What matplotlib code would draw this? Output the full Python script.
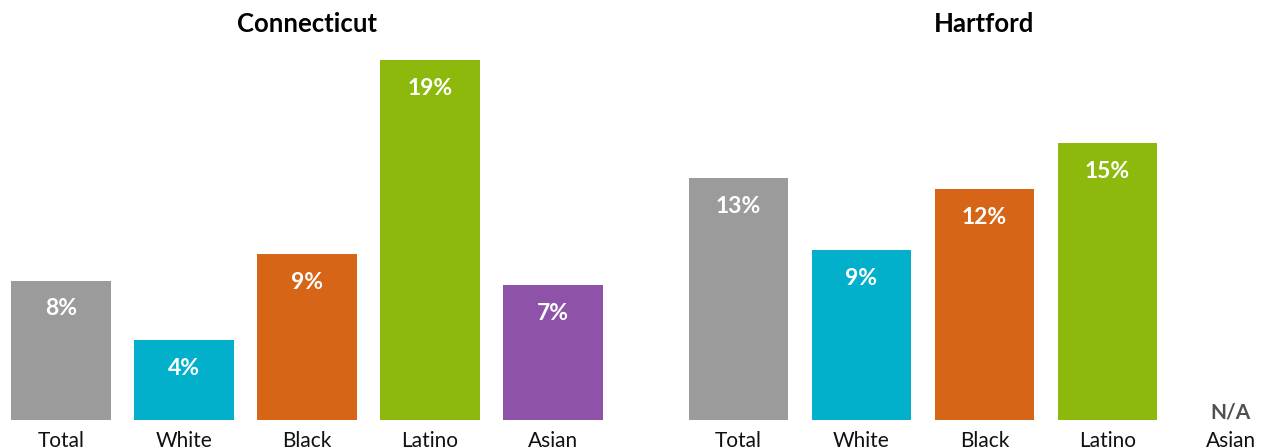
import numpy as np
import matplotlib.pyplot as plt

plt.rcParams['font.family'] = ['Lato', 'DejaVu Sans']

groups = ["Total", "White", "Black", "Latino", "Asian"]
colors = ["#9b9b9b", "#03b0cb", "#d66518", "#8db90c", "#8e52a8"]

ct_values = [7.5, 4.3, 8.9, 19.35, 7.25]
hartford_values = [13.0, 9.15, 12.4, 14.9, None]  # Asian not available

W, H = 1265, 448
fig = plt.figure(figsize=(W / 100, H / 100), dpi=100)

# both panels share one y scale so the heights compare directly
ymax = 20
base_px, top_px = 420, 420 - ymax * 18.6
panels = [("Connecticut", ct_values, -0.5), ("Hartford", hartford_values, 677)]

for title, values, left_px in panels:
    ax = fig.add_axes([left_px / W, (H - base_px) / H, 615 / W, (base_px - top_px) / H])
    x = np.arange(len(groups))
    for i, v in enumerate(values):
        if v is None:
            ax.annotate("N/A", (i, 0), xytext=(0, -2), textcoords="offset points",
                        ha="center", va="bottom", fontsize=15,
                        fontweight="bold", color="#505050")
            continue
        ax.bar(i, v, width=0.805, color=colors[i])
        ax.annotate(f"{v:.0f}%", (i, v), xytext=(0, -20.5), textcoords="offset points",
                    ha="center", va="center", fontsize=16.5, fontweight="bold",
                    color="white")
    ax.set_xlim(-0.5, len(groups) - 0.5)
    ax.set_ylim(0, ymax)
    ax.set_xticks(x)
    ax.set_xticklabels(groups, fontsize=15, color="#111111")
    ax.tick_params(axis="x", length=0, pad=8)
    ax.set_yticks([])
    for s in ax.spines.values():
        s.set_visible(False)
    ax.text(2, ymax + 0.5 + 15 / 18.6, title, ha="center", va="center",
            fontsize=18.5, fontweight="bold", color="black")

fig.savefig("out.png", dpi=100)
